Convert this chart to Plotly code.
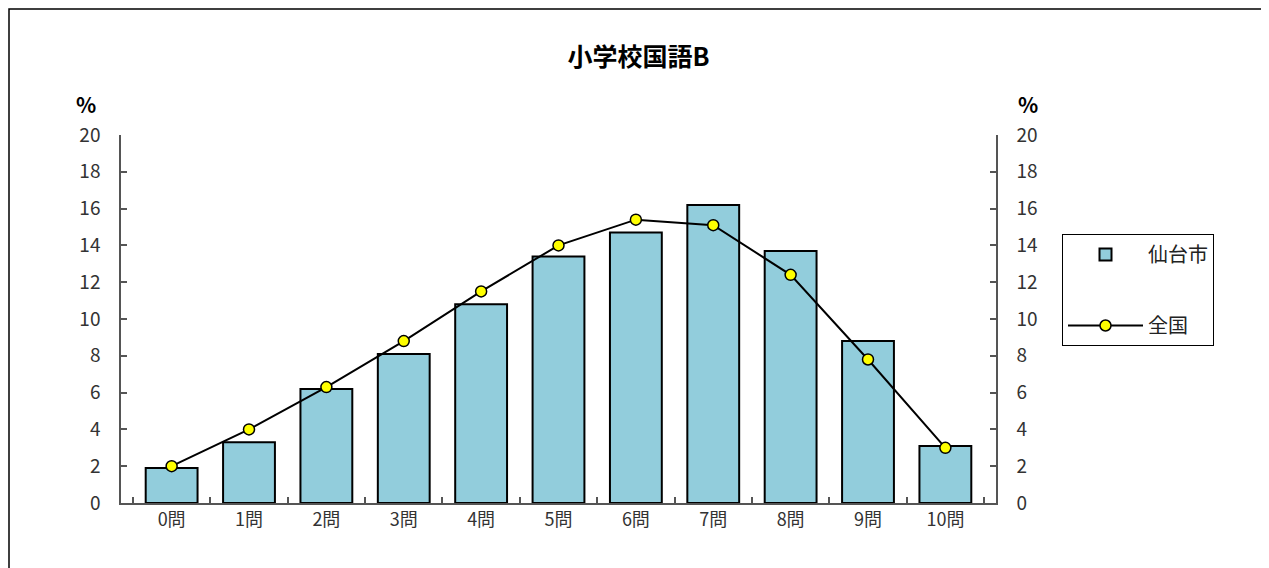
import plotly.graph_objects as go

categories = ["0問", "1問", "2問", "3問", "4問", "5問", "6問", "7問", "8問", "9問", "10問"]
sendai = [1.9, 3.3, 6.2, 8.1, 10.8, 13.4, 14.7, 16.2, 13.7, 8.8, 3.1]
zenkoku = [2.0, 4.0, 6.3, 8.8, 11.5, 14.0, 15.4, 15.1, 12.4, 7.8, 3.0]
y_ticks = list(range(0, 21, 2))

FONT = "Noto Sans CJK JP"
OFF = 8  # page body margin
W, H = 1269 - OFF, 568 - OFF
# plot area in page pixels: x 121..996, y 135..503
L = 121 - OFF
T = 135 - OFF
R = W - (996 - OFF)
B = H - (503 - OFF)
pw = W - L - R
ph = H - T - B

def px(x):
    return (x - OFF - L) / pw

def py(y):
    return (H - B - (y - OFF)) / ph

fig = go.Figure()
fig.add_trace(go.Bar(
    x=categories, y=sendai, name="仙台市",
    marker=dict(color="#92CDDC", line=dict(color="black", width=2)),
    legendgroup="a",
))
fig.add_trace(go.Scatter(
    x=categories, y=zenkoku, name="全国", mode="lines+markers",
    line=dict(color="black", width=2),
    marker=dict(color="#FFFF00", size=11, line=dict(color="black", width=1.5)),
    yaxis="y2", legendgroup="b",
))

axis_common = dict(
    range=[0, 20], tickvals=y_ticks, showgrid=False, zeroline=False,
    showline=True, linecolor="#555555", linewidth=1.5,
    ticks="inside", ticklen=6, tickcolor="#555555", tickwidth=1.5,
    tickfont=dict(family=FONT, size=19, color="#333333"),
    ticklabelstandoff=15,
)

fig.update_layout(
    width=W, height=H,
    margin=dict(l=L, r=R, t=T, b=B),
    paper_bgcolor="white", plot_bgcolor="white",
    bargap=0.33,
    title=dict(text="<b>小学校国語B</b>", x=0.5, xref="container", xanchor="center",
               y=1 - (57 - OFF) / H, yanchor="middle", yref="container",
               font=dict(family=FONT, size=25, color="black")),
    xaxis=dict(showgrid=False, showline=True, linecolor="#555555", linewidth=1.5,
               ticks="inside", tickson="boundaries", ticklen=6, tickcolor="#555555",
               tickwidth=1.5,
               tickfont=dict(family=FONT, size=18, color="#333333")),
    yaxis=dict(**axis_common),
    yaxis2=dict(overlaying="y", side="right", **axis_common),
    showlegend=True,
    legend=dict(x=px(1062), y=py(234), xanchor="left", yanchor="top",
                bgcolor="white", bordercolor="black", borderwidth=1,
                font=dict(family=FONT, size=20, color="#222222"),
                tracegroupgap=42, itemwidth=75),
    shapes=[dict(type="rect", xref="paper", yref="paper",
                 x0=px(9), x1=px(1262), y0=py(590), y1=py(9),
                 line=dict(color="black", width=1.5), fillcolor="rgba(0,0,0,0)")],
    annotations=[
        dict(text="<b>%</b>", xref="paper", yref="paper", x=px(86), y=py(104),
             xanchor="center", yanchor="middle",
             showarrow=False, font=dict(family=FONT, size=21, color="black")),
        dict(text="<b>%</b>", xref="paper", yref="paper", x=px(1028), y=py(104),
             xanchor="center", yanchor="middle",
             showarrow=False, font=dict(family=FONT, size=21, color="black")),
    ],
)

fig.write_html("out.html")
